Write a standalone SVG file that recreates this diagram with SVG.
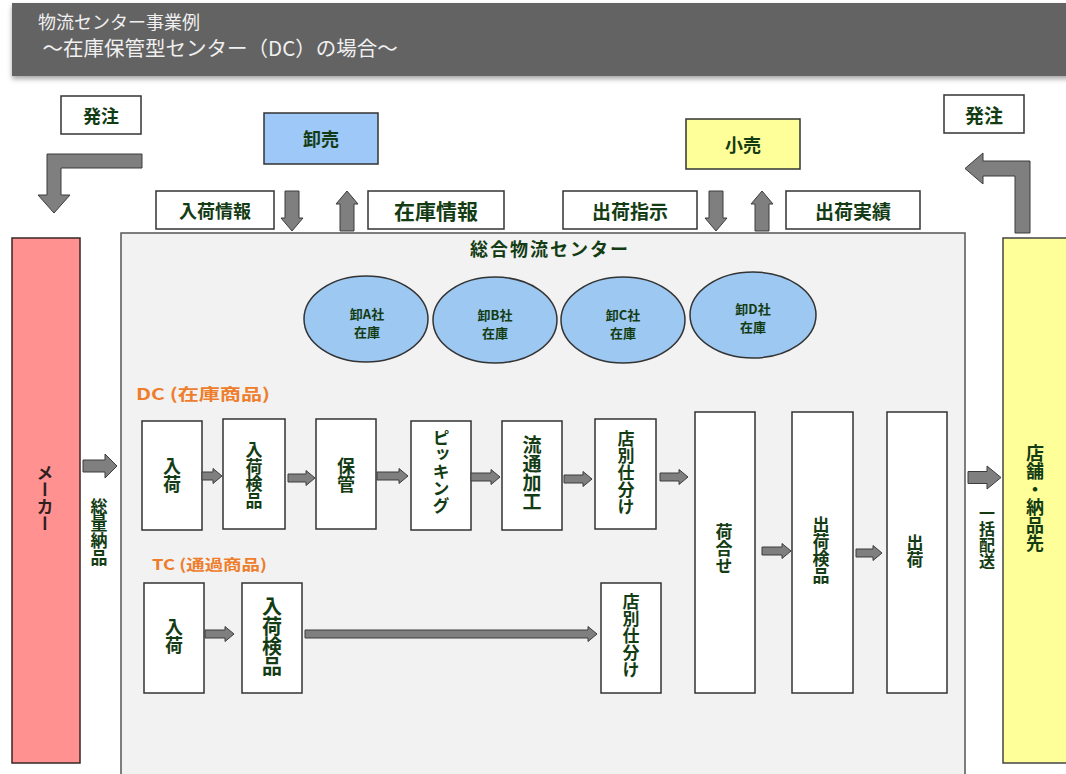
<svg xmlns="http://www.w3.org/2000/svg" width="1066" height="774" viewBox="0 0 1066 774">
<defs>
<filter id="sh" x="-5%" y="-20%" width="110%" height="150%"><feDropShadow dx="0" dy="3" stdDeviation="2.5" flood-color="#000" flood-opacity="0.35"/></filter>
</defs>
<style>
text{font-family:"Noto Sans CJK JP","Noto Sans",sans-serif;}
.lbl{font-weight:bold;fill:#143c14;text-anchor:middle;dominant-baseline:central;}
.v{font-weight:bold;fill:#143c14;writing-mode:vertical-rl;text-anchor:middle;}
.box{fill:#fff;stroke:#333;stroke-width:1.5;}
.ell{fill:#9dc8f2;stroke:#333;stroke-width:1.5;}
.arr{fill:#7f7f7f;stroke:#3c3c3c;stroke-width:1;}
.org{font-weight:bold;fill:#ee7d2c;}
.ttl{fill:#f0f0f0;}
</style>
<rect x="12" y="3" width="1060" height="73" fill="#636363" filter="url(#sh)"/>
<text class="ttl" x="38" y="29" font-size="18">物流センター事業例</text>
<text class="ttl" x="38" y="56" font-size="20.5" xml:space="preserve"> ～在庫保管型センター（DC）の場合～</text>

<g id="center">
<rect x="121" y="233" width="844" height="550" fill="#f2f2f2" stroke="#555" stroke-width="1.5"/>
<text x="550" y="248" class="lbl" font-size="18" letter-spacing="2">総合物流センター</text>
</g>
<g id="maker"><rect x="12" y="238" width="68" height="525" fill="#ff9191" stroke="#3a2626" stroke-width="1.5"/><text x="45" y="498" class="v" font-size="17" style="fill:#2e2020">メーカー</text></g>
<g id="store"><rect x="1003" y="238" width="70" height="525" fill="#ffff99" stroke="#444" stroke-width="1.5"/><text x="1035" y="498" class="v" font-size="18">店舗・納品先</text></g>

<g id="order-l"><rect class="box" x="61" y="96" width="80" height="38"/><text class="lbl" x="101" y="115" font-size="18">発注</text></g>
<g id="oroshi"><rect x="264" y="113" width="114" height="51" fill="#9dc8f7" stroke="#333" stroke-width="1.5"/><text class="lbl" x="321" y="138" font-size="18">卸売</text></g>
<g id="nyuka-info"><rect class="box" x="156" y="191" width="118" height="38"/><text class="lbl" x="215" y="210" font-size="18">入荷情報</text></g>
<g id="zaiko-info"><rect class="box" x="368" y="191" width="136" height="38"/><text class="lbl" x="436" y="210" font-size="21">在庫情報</text></g>
<g id="kouri"><rect x="686" y="119" width="114" height="50" fill="#ffff99" stroke="#333" stroke-width="1.5"/><text class="lbl" x="743" y="144" font-size="18">小売</text></g>
<g id="ship-inst"><rect class="box" x="563" y="191" width="134" height="38"/><text class="lbl" x="630" y="210" font-size="19">出荷指示</text></g>
<g id="ship-result"><rect class="box" x="786" y="191" width="134" height="38"/><text class="lbl" x="853" y="210" font-size="19">出荷実績</text></g>
<g id="order-r"><rect class="box" x="944" y="95" width="80" height="38"/><text class="lbl" x="984" y="114" font-size="19">発注</text></g>

<g id="stock-a"><ellipse class="ell" cx="366" cy="319" rx="62" ry="43"/><text class="lbl" x="367" y="313" font-size="13">卸A社</text><text class="lbl" x="367" y="331" font-size="13">在庫</text></g>
<g id="stock-b"><ellipse class="ell" cx="495" cy="320" rx="62" ry="43"/><text class="lbl" x="495" y="314" font-size="13">卸B社</text><text class="lbl" x="495" y="332" font-size="13">在庫</text></g>
<g id="stock-c"><ellipse class="ell" cx="623" cy="320" rx="62" ry="43"/><text class="lbl" x="623" y="314" font-size="13">卸C社</text><text class="lbl" x="623" y="332" font-size="13">在庫</text></g>
<g id="stock-d"><ellipse class="ell" cx="753" cy="315" rx="63" ry="43"/><text class="lbl" x="753" y="308" font-size="13">卸D社</text><text class="lbl" x="753" y="326" font-size="13">在庫</text></g>

<text class="org" x="136" y="400" font-size="16" textLength="134" lengthAdjust="spacingAndGlyphs">DC (在庫商品)</text>
<text class="org" x="152" y="570" font-size="15" textLength="115" lengthAdjust="spacingAndGlyphs">TC (通過商品)</text>

<g id="dc-nyuka"><rect class="box" x="142" y="421" width="60" height="109"/><text class="v" x="172" y="475" font-size="18">入荷</text></g>
<g id="dc-kenpin"><rect class="box" x="223" y="419" width="62" height="110"/><text class="v" x="254" y="475" font-size="17">入荷検品</text></g>
<g id="dc-hokan"><rect class="box" x="316" y="419" width="60" height="110"/><text class="v" x="346" y="475" font-size="18">保管</text></g>
<g id="dc-picking"><rect class="box" x="411" y="421" width="60" height="109"/><text class="v" x="441" y="472" font-size="17">ピッキング</text></g>
<g id="dc-kakou"><rect class="box" x="502" y="421" width="60" height="109"/><text class="v" x="532" y="473" font-size="19">流通加工</text></g>
<g id="dc-shiwake"><rect class="box" x="595" y="419" width="61" height="110"/><text class="v" x="626" y="473" font-size="17">店別仕分け</text></g>
<g id="niawase"><rect class="box" x="695" y="412" width="60" height="281"/><text class="v" x="724" y="549" font-size="17">荷合せ</text></g>
<g id="ship-kenpin"><rect class="box" x="792" y="412" width="61" height="281"/><text class="v" x="821" y="550" font-size="17">出荷検品</text></g>
<g id="shuka"><rect class="box" x="887" y="412" width="60" height="281"/><text class="v" x="915" y="551" font-size="17">出荷</text></g>
<g id="tc-nyuka"><rect class="box" x="144" y="583" width="60" height="110"/><text class="v" x="174" y="636" font-size="18">入荷</text></g>
<g id="tc-kenpin"><rect class="box" x="242" y="583" width="60" height="110"/><text class="v" x="272" y="636" font-size="20">入荷検品</text></g>
<g id="tc-shiwake"><rect class="box" x="601" y="583" width="60" height="110"/><text class="v" x="631" y="636" font-size="17">店別仕分け</text></g>

<text class="v" x="99" y="532" font-size="17">総量納品</text>
<text class="v" x="987" y="537" font-size="16">一括配送</text>

<g id="connectors">
<polygon class="arr" points="142,154 47,154 47,195 38,195 54,213 70,195 61,195 61,168 142,168"/>
<polygon class="arr" points="1030,233 1030,161 983,161 983,153 965,168.5 983,184 983,176 1015,176 1015,233"/>
<polygon class="arr" points="285,191 299,191 299,218 303,218 292,231 281,218 285,218"/>
<polygon class="arr" points="340,231 354,231 354,204 358,204 347,191 336,204 340,204"/>
<polygon class="arr" points="709,191 723,191 723,218 727,218 716,231 705,218 709,218"/>
<polygon class="arr" points="755,231 769,231 769,204 773,204 762,191 751,204 755,204"/>
<polygon class="arr" points="83,460 105,460 105,454 117,466 105,478 105,472 83,472"/>
<polygon class="arr" points="968,471.5 987,471.5 987,466 1001,477.5 987,489 987,483.5 968,483.5"/>
<polygon class="arr" points="202,472 213,472 213,468.5 222,476 213,483.5 213,480 202,480"/>
<polygon class="arr" points="288,474 306,474 306,470.5 315,478 306,485.5 306,482 288,482"/>
<polygon class="arr" points="377,472 399,472 399,468.5 408,476 399,483.5 399,480 377,480"/>
<polygon class="arr" points="471,473 491,473 491,469.5 500,477 491,484.5 491,481 471,481"/>
<polygon class="arr" points="564,475 583,475 583,471.5 592,479 583,486.5 583,483 564,483"/>
<polygon class="arr" points="660,473 679,473 679,469.5 688,477 679,484.5 679,481 660,481"/>
<polygon class="arr" points="762,547 782,547 782,543.5 791,551 782,558.5 782,555 762,555"/>
<polygon class="arr" points="856,549 873,549 873,545.5 882,553 873,560.5 873,557 856,557"/>
<polygon class="arr" points="205,630 225,630 225,626.5 234,634 225,641.5 225,638 205,638"/>
<polygon class="arr" points="305,630 588,630 588,626.5 597,634 588,641.5 588,638 305,638"/>
</g>
</svg>
